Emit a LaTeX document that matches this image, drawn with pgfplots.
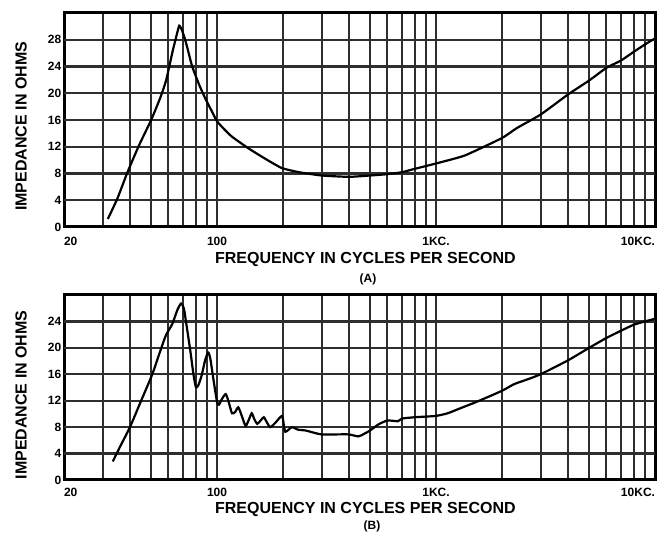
\documentclass[border=0pt]{standalone}
\usepackage{fontspec}
\setmainfont{Liberation Sans}
\usepackage{pgfplots}
\pgfplotsset{compat=1.18}
\definecolor{gridc}{HTML}{2E2E2E}
\begin{document}
\begin{tikzpicture}
\path[use as bounding box] (0pt,0pt) rectangle (658pt,535pt);
\begin{axis}[at={(64pt,308pt)}, anchor=south west,
  xmode=log, scale only axis, width=591pt, height=214pt,
  xmin=20, xmax=10000, ymin=0, ymax=32,
  xtick={20,100,1000,10000},
  xticklabels={\makebox[0pt][l]{20},100,1KC.,\makebox[0pt][r]{10KC.}},
  minor xtick={30,40,50,60,70,80,90,200,300,400,500,600,700,800,900,2000,3000,4000,5000,6000,7000,8000,9000},
  ytick={0,4,...,28},
  xmajorgrids=true, xminorgrids=true, ymajorgrids=true,
  grid style={line width=2pt, gridc},
  major tick length=0pt, minor tick length=0pt,
  axis line style={line width=3pt, black},
  tick label style={font=\fontsize{12}{12}\selectfont\bfseries},
  /pgf/number format/assume math mode=true,
  yticklabel style={inner sep=0pt, anchor=east, xshift=-2.5pt},
  xticklabel style={inner sep=0pt, anchor=north, yshift=-10pt},
  label style={font=\fontsize{16}{16}\selectfont\bfseries},
  xlabel={FREQUENCY IN CYCLES PER SECOND},
  ylabel={IMPEDANCE IN OHMS},
  xlabel style={at={(axis description cs:0.51,0)}, anchor=north, inner sep=0pt, yshift=-25pt},
  ylabel style={at={(axis description cs:-0.0626,0.47)}, anchor=south, inner sep=0pt}]
\addplot[gridc, line width=2.2pt, mark=none, forget plot] coordinates {(20,4) (1000,4) (10000,4)};
\addplot[gridc, line width=2.2pt, mark=none, forget plot] coordinates {(20,8) (1000,8) (10000,8)};
\addplot[gridc, line width=2.2pt, mark=none, forget plot] coordinates {(20,12) (1000,12) (10000,12)};
\addplot[gridc, line width=2.2pt, mark=none, forget plot] coordinates {(20,16) (1000,16) (10000,16)};
\addplot[gridc, line width=2.2pt, mark=none, forget plot] coordinates {(20,20) (1000,20) (10000,20)};
\addplot[gridc, line width=2.2pt, mark=none, forget plot] coordinates {(20,24) (1000,24) (10000,24)};
\addplot[gridc, line width=2.2pt, mark=none, forget plot] coordinates {(20,28) (1000,28) (10000,28)};
\addplot[black, line width=2.2pt, mark=none, smooth, tension=0.3] coordinates {
(31.7,1.2) (35,4.2) (39,8.2) (44,12.2) (50,16) (55,19.3) (58.6,22) (62.8,26.4)
(65.5,28.8) (67.2,30.1) (69,29.5) (71.2,28.2) (73.3,26.7) (77,24) (83,21.2)
(89,19.0) (95,17.2) (100,15.8) (108,14.6) (117,13.5) (140,11.7) (170,10) (198,8.8) (236,8.2)
(300,7.7) (400,7.5) (500,7.7) (600,7.9) (700,8.2) (800,8.7) (1000,9.5)
(1355,10.7) (2000,13.3) (2340,14.8) (3000,16.8) (4000,19.8) (5000,21.9)
(6000,23.8) (7000,24.9) (8000,26.2) (9000,27.3) (10000,28.2)
};
\end{axis}
\begin{axis}[at={(64pt,55pt)}, anchor=south west,
  xmode=log, scale only axis, width=591pt, height=185pt,
  xmin=20, xmax=10000, ymin=0, ymax=28,
  xtick={20,100,1000,10000},
  xticklabels={\makebox[0pt][l]{20},100,1KC.,\makebox[0pt][r]{10KC.}},
  minor xtick={30,40,50,60,70,80,90,200,300,400,500,600,700,800,900,2000,3000,4000,5000,6000,7000,8000,9000},
  ytick={0,4,...,24},
  xmajorgrids=true, xminorgrids=true, ymajorgrids=true,
  grid style={line width=2pt, gridc},
  major tick length=0pt, minor tick length=0pt,
  axis line style={line width=3pt, black},
  tick label style={font=\fontsize{12}{12}\selectfont\bfseries},
  /pgf/number format/assume math mode=true,
  yticklabel style={inner sep=0pt, anchor=east, xshift=-2.5pt},
  xticklabel style={inner sep=0pt, anchor=north, yshift=-8pt},
  label style={font=\fontsize{16}{16}\selectfont\bfseries},
  xlabel={FREQUENCY IN CYCLES PER SECOND},
  ylabel={IMPEDANCE IN OHMS},
  xlabel style={at={(axis description cs:0.51,0)}, anchor=north, inner sep=0pt, yshift=-22pt},
  ylabel style={at={(axis description cs:-0.0626,0.46)}, anchor=south, inner sep=0pt}]
\addplot[gridc, line width=2.2pt, mark=none, forget plot] coordinates {(20,4) (1000,4) (10000,4)};
\addplot[gridc, line width=2.2pt, mark=none, forget plot] coordinates {(20,8) (1000,8) (10000,8)};
\addplot[gridc, line width=2.2pt, mark=none, forget plot] coordinates {(20,12) (1000,12) (10000,12)};
\addplot[gridc, line width=2.2pt, mark=none, forget plot] coordinates {(20,16) (1000,16) (10000,16)};
\addplot[gridc, line width=2.2pt, mark=none, forget plot] coordinates {(20,20) (1000,20) (10000,20)};
\addplot[gridc, line width=2.2pt, mark=none, forget plot] coordinates {(20,24) (1000,24) (10000,24)};
\addplot[black, line width=2.2pt, mark=none, smooth, tension=0.4] coordinates {
(33.4,2.8) (36,5) (40,8) (45,12) (50.6,16) (55,19.5) (58.4,21.9) (62.4,23.6)
(66,25.8) (68.5,26.7) (70.5,26) (72.1,24) (74,21.5) (75.9,19) (78,16) (80,14.1)
(82,14.3) (85,15.8) (88,18) (91,19.3) (93,18.5) (95,16.5) (97,14.5) (100,11.8)
(102,11.4) (105,12.2) (109.5,13) (113,11.8) (117,10.1) (121,10.3) (125,11)
(130,9.6) (135,8.2) (140,9.2) (144,10.1) (148,9.2) (152.5,8.5) (158,9)
(163.5,9.5) (169,8.7) (175,8) (185,8.7) (198,9.7) (202,8.2) (205,7.3) (212,7.6)
(220,8) (235,7.6) (253,7.5) (281,7.1) (301,6.9) (350,6.9) (400,6.9) (442,6.6)
(470,7) (500,7.5) (545,8.4) (600,9) (670,8.9) (700,9.3) (800,9.5) (900,9.6)
(1000,9.7) (1130,10.1) (1300,10.9) (1550,11.9) (2000,13.5) (2270,14.5)
(2600,15.2) (3000,16) (4000,18.1) (5000,20) (6000,21.5) (7000,22.6) (8000,23.5)
(9000,24) (10000,24.4)
};
\end{axis}
\node[font=\fontsize{12}{12}\selectfont\bfseries] at (368pt,256pt) {(A)};
\node[font=\fontsize{12}{12}\selectfont\bfseries] at (372pt,9pt) {(B)};
\end{tikzpicture}
\end{document}
